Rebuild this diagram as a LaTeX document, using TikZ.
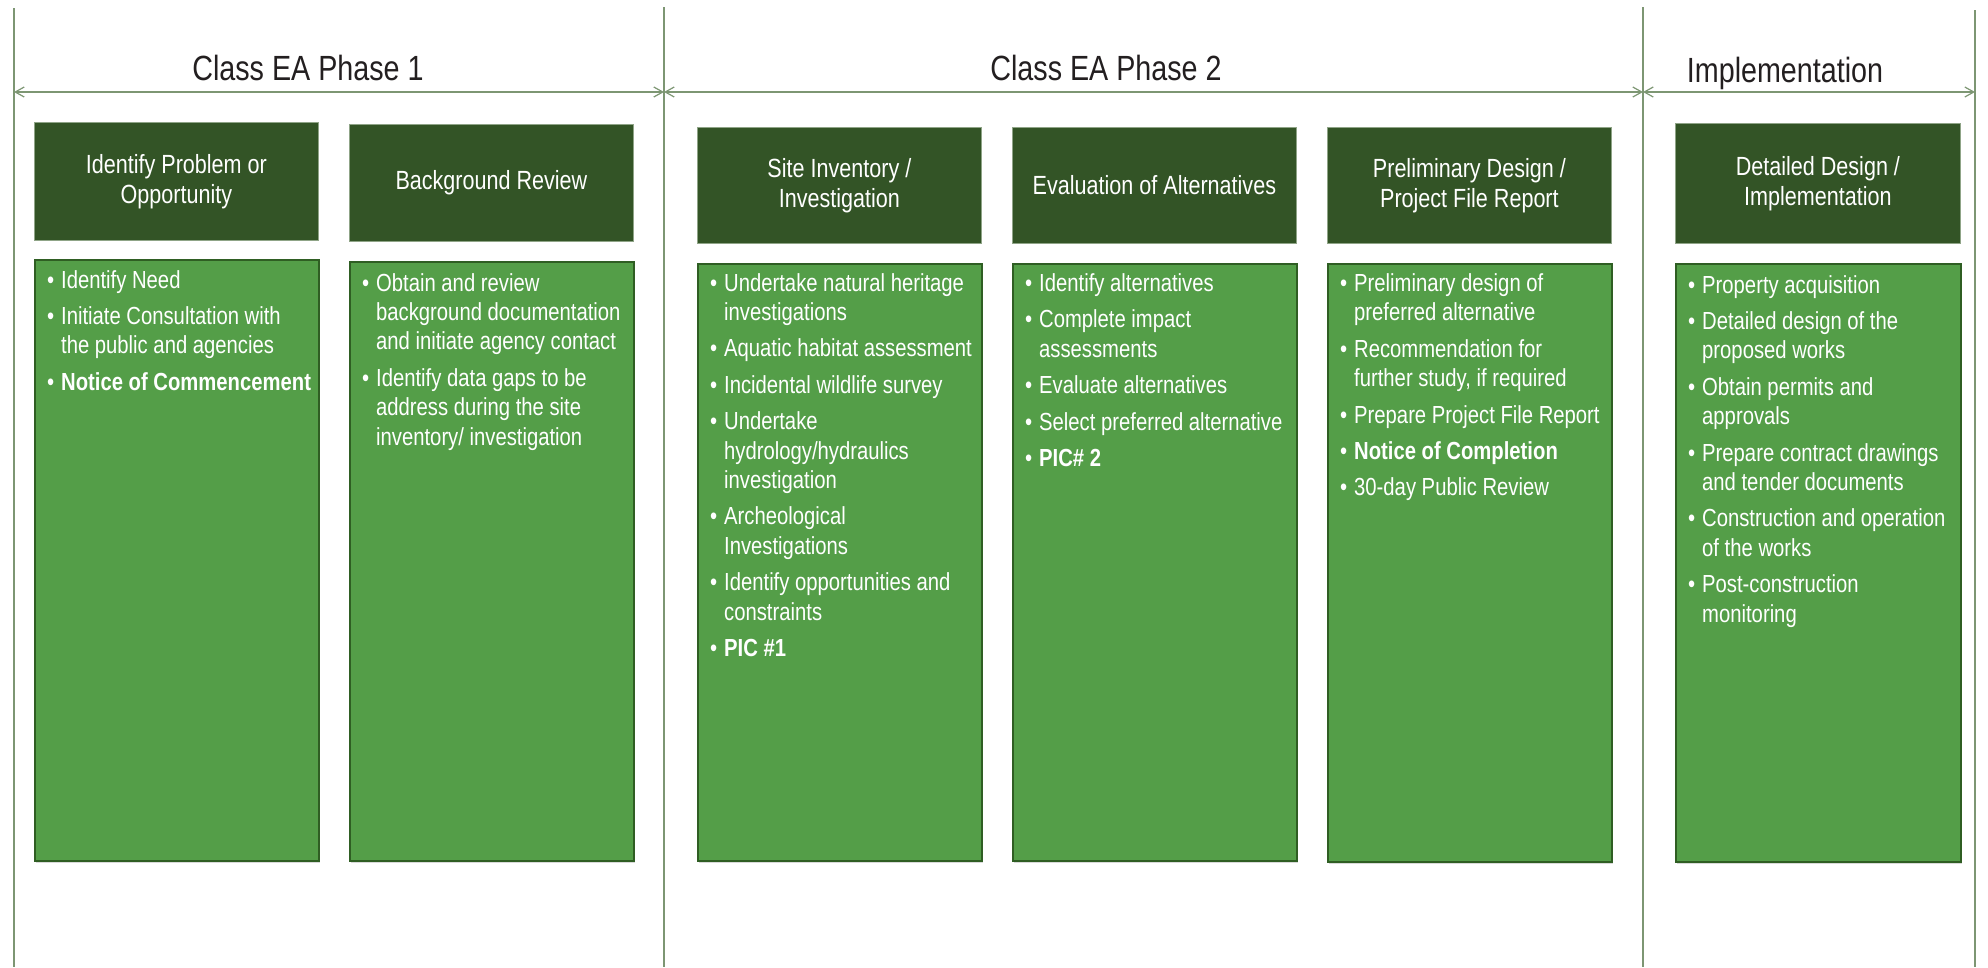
\documentclass[tikz,border=0pt]{standalone}
\usepackage{fontspec}
\setmainfont{Liberation Sans}[FakeStretch=0.82]
\usetikzlibrary{arrows.meta,shadows}

\definecolor{hdrgreen}{HTML}{335426}
\definecolor{hdredge}{HTML}{8FA487}
\definecolor{boxgreen}{HTML}{549E48}
\definecolor{boxedge}{HTML}{2F5E23}
\definecolor{rulegreen}{HTML}{7D9673}
\definecolor{titleink}{HTML}{231F20}

% bullet cell of a task list
\newcommand{\bl}{\makebox[14pt][l]{\textbullet}}
% gap between two entries of a task list
\newcommand{\nx}{\\[7pt]}

\begin{document}
\begin{tikzpicture}[x=1pt,y=-1pt,
  phaserule/.style={draw=rulegreen, line width=1.2},
  spanarrow/.style={draw=rulegreen, line width=1.2,
    {Straight Barb[length=9pt,width=10pt]}-{Straight Barb[length=9pt,width=10pt]}},
  phasetitle/.style={anchor=base, text=titleink, inner sep=0,
    font=\fontsize{35}{40}\selectfont},
  hdrbox/.style={fill=hdrgreen, draw=hdredge, line width=0.8, minimum width=284,
    anchor=north west, inner sep=0, text=white, align=center,
    font=\fontsize{26.3}{30.4}\selectfont},
  listbox/.style={fill=boxgreen, draw=boxedge, line width=2, minimum width=284,
    anchor=north west, inner sep=0,
    drop shadow={shadow xshift=1pt, shadow yshift=-2pt, opacity=0.3}},
  listtext/.style={anchor=base west, inner sep=0, text=white,
    font=\fontsize{24.7}{29.4}\selectfont}
]
\useasboundingbox (0,0) rectangle (1988,967);

% phase separators
\coordinate (r1t) at (14,8);    \coordinate (r1b) at (14,967);
\coordinate (r2t) at (664,7);   \coordinate (r2b) at (664,967);
\coordinate (r3t) at (1643,7);  \coordinate (r3b) at (1643,967);
\coordinate (r4t) at (1975,10); \coordinate (r4b) at (1975,967);
\draw[phaserule] (r1t) -- (r1b);
\draw[phaserule] (r2t) -- (r2b);
\draw[phaserule] (r3t) -- (r3b);
\draw[phaserule] (r4t) -- (r4b);

% phase spans
\coordinate (s1) at (14,92);
\coordinate (s2) at (664,92);
\coordinate (s3) at (1643,92);
\coordinate (s4) at (1975,92);
\draw[spanarrow] (s1) -- (s2);
\draw[spanarrow] (s2) -- (s3);
\draw[spanarrow] (s3) -- (s4);

% phase titles
\node[phasetitle] (p1) at (308,80) {Class EA Phase 1};
\node[phasetitle] (p2) at (1106,80) {Class EA Phase 2};
\node[phasetitle] (p3) at (1785,82) {Implementation};

% step headers
\node[hdrbox, minimum height=118] (h1) at (34,122) {Identify Problem or\\Opportunity};
\node[hdrbox, minimum height=117] (h2) at (349,124) {Background Review};
\node[hdrbox, minimum height=116] (h3) at (697,127) {Site Inventory /\\Investigation};
\node[hdrbox, minimum height=116] (h4) at (1012,127) {Evaluation of Alternatives};
\node[hdrbox, minimum height=116] (h5) at (1327,127) {Preliminary Design /\\Project File Report};
\node[hdrbox, minimum height=120, minimum width=285] (h6) at (1675,123) {Detailed Design /\\Implementation};

% task lists
\node[listbox, minimum height=601] (c1) at (34,259) {};
\node[listbox, minimum height=599] (c2) at (349,261) {};
\node[listbox, minimum height=597.5] (c3) at (697,262.5) {};
\node[listbox, minimum height=597.5] (c4) at (1012,262.5) {};
\node[listbox, minimum height=598.5] (c5) at (1327,262.5) {};
\node[listbox, minimum height=598.5, minimum width=285] (c6) at (1675,262.5) {};

\node[listtext] (t1) at ([xshift=13pt,yshift=-29pt]c1.north west) {%
  \begin{tabular}[t]{@{}l@{}l@{}}
  \bl & Identify Need\nx
  \bl & Initiate Consultation with\\
      & the public and agencies\nx
  \bl & \textbf{Notice of Commencement}
  \end{tabular}};

\node[listtext] (t2) at ([xshift=13pt,yshift=-30pt]c2.north west) {%
  \begin{tabular}[t]{@{}l@{}l@{}}
  \bl & Obtain and review\\
      & background documentation\\
      & and initiate agency contact\nx
  \bl & Identify data gaps to be\\
      & address during the site\\
      & inventory/ investigation
  \end{tabular}};

\node[listtext] (t3) at ([xshift=13pt,yshift=-28.5pt]c3.north west) {%
  \begin{tabular}[t]{@{}l@{}l@{}}
  \bl & Undertake natural heritage\\
      & investigations\nx
  \bl & Aquatic habitat assessment\nx
  \bl & Incidental wildlife survey\nx
  \bl & Undertake\\
      & hydrology/hydraulics\\
      & investigation\nx
  \bl & Archeological\\
      & Investigations\nx
  \bl & Identify opportunities and\\
      & constraints\nx
  \bl & \textbf{PIC \#1}
  \end{tabular}};

\node[listtext] (t4) at ([xshift=13pt,yshift=-29pt]c4.north west) {%
  \begin{tabular}[t]{@{}l@{}l@{}}
  \bl & Identify alternatives\nx
  \bl & Complete impact\\
      & assessments\nx
  \bl & Evaluate alternatives\nx
  \bl & Select preferred alternative\nx
  \bl & \textbf{PIC\# 2}
  \end{tabular}};

\node[listtext] (t5) at ([xshift=13pt,yshift=-29pt]c5.north west) {%
  \begin{tabular}[t]{@{}l@{}l@{}}
  \bl & Preliminary design of\\
      & preferred alternative\nx
  \bl & Recommendation for\\
      & further study, if required\nx
  \bl & Prepare Project File Report\nx
  \bl & \textbf{Notice of Completion}\nx
  \bl & 30-day Public Review
  \end{tabular}};

\node[listtext] (t6) at ([xshift=13pt,yshift=-30.5pt]c6.north west) {%
  \begin{tabular}[t]{@{}l@{}l@{}}
  \bl & Property acquisition\nx
  \bl & Detailed design of the\\
      & proposed works\nx
  \bl & Obtain permits and\\
      & approvals\nx
  \bl & Prepare contract drawings\\
      & and tender documents\nx
  \bl & Construction and operation\\
      & of the works\nx
  \bl & Post-construction\\
      & monitoring
  \end{tabular}};
\end{tikzpicture}
\end{document}
